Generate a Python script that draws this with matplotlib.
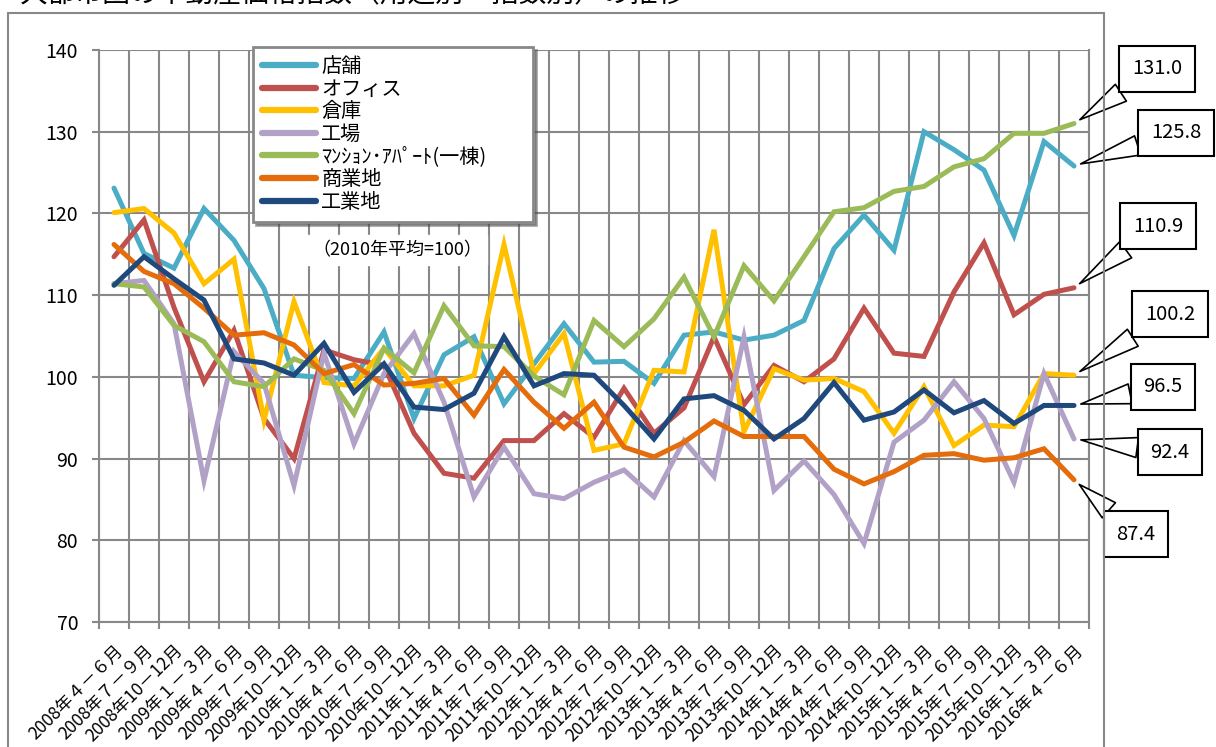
import numpy as np
import matplotlib
matplotlib.use("Agg")
import matplotlib.pyplot as plt
from matplotlib.patches import Rectangle

plt.rcParams['font.family'] = ['Noto Sans CJK JP', 'DejaVu Sans']

#
# Quarter labels, 2008 Q2 .. 2016 Q2
#
quarters = []
for year in range(2008, 2017):
    for q in ["１－３", "４－６", "７－９", "10－12"]:
        quarters.append(f"{year}年{q}月")
quarters = quarters[1:34]

# Index values (2010 average = 100)
shop = [123.1, 115.1, 113.3, 120.6, 116.7, 110.8, 100.2, 99.9, 99.8, 105.5, 94.9,
        102.7, 104.9, 96.7, 101.6, 106.5, 101.8, 101.9, 99.2, 105.1, 105.5, 104.5,
        105.1, 106.9, 115.7, 119.8, 115.5, 130.0, 127.8, 125.3, 117.3, 128.8, 125.8]
office = [114.7, 119.2, 108.5, 99.4, 105.7, 94.9, 90.0, 103.3, 102.1, 101.4, 93.1,
          88.2, 87.6, 92.2, 92.2, 95.5, 92.6, 98.6, 93.1, 96.2, 104.9, 96.6,
          101.4, 99.4, 102.2, 108.4, 102.9, 102.5, 110.4, 116.4, 107.6, 110.1, 110.9]
warehouse = [120.1, 120.6, 117.6, 111.4, 114.4, 94.7, 109.2, 99.3, 98.9, 103.5, 98.9,
             98.9, 100.2, 116.2, 100.4, 105.3, 91.0, 91.8, 100.8, 100.6, 118.0, 93.3,
             101.0, 99.6, 99.8, 98.2, 93.1, 98.8, 91.6, 94.1, 93.9, 100.4, 100.2]
factory = [111.4, 111.8, 106.5, 87.3, 103.1, 99.2, 86.7, 102.9, 91.8, 100.4, 105.3,
           96.9, 85.3, 91.4, 85.7, 85.1, 87.1, 88.6, 85.3, 92.2, 87.8, 104.9,
           86.1, 89.7, 85.6, 79.6, 92.0, 94.7, 99.4, 94.9, 87.1, 100.4, 92.4]
apartment = [111.4, 111.0, 106.3, 104.3, 99.4, 98.8, 102.2, 100.8, 95.5, 103.5, 100.5,
             108.7, 103.8, 103.7, 100.1, 97.8, 106.9, 103.7, 107.1, 112.2, 104.9, 113.6,
             109.3, 114.7, 120.2, 120.7, 122.7, 123.3, 125.7, 126.7, 129.8, 129.8, 131.0]
commercial = [116.2, 112.9, 111.4, 108.4, 105.1, 105.4, 103.9, 100.4, 101.5, 99.0, 99.2,
              99.8, 95.3, 100.9, 96.9, 93.7, 96.9, 91.4, 90.2, 92.0, 94.6, 92.7,
              92.7, 92.7, 88.7, 86.9, 88.4, 90.4, 90.6, 89.8, 90.1, 91.2, 87.4]
industrial = [111.2, 114.7, 112.0, 109.4, 102.2, 101.7, 100.2, 104.1, 98.1, 101.6, 96.3,
              96.0, 98.0, 104.9, 98.9, 100.4, 100.2, 96.5, 92.4, 97.3, 97.7, 95.9,
              92.4, 94.9, 99.3, 94.7, 95.7, 98.4, 95.6, 97.1, 94.3, 96.5, 96.5]

series_names = ["店舗", "オフィス", "倉庫", "工場", "ﾏﾝｼｮﾝ･ｱﾊﾟｰﾄ(一棟)", "商業地", "工業地"]
series_values = [shop, office, warehouse, factory, apartment, commercial, industrial]
series_colors = ["#4BACC6", "#C0504D", "#FFC000", "#B2A1C7", "#9BBB59", "#E46C0A", "#1F497D"]

# callout text positions (figure pixels from top-left) for each series
callout_pos = {"ﾏﾝｼｮﾝ･ｱﾊﾟｰﾄ(一棟)": (1157, 69), "店舗": (1176, 133), "オフィス": (1158, 226),
               "倉庫": (1170, 314), "工業地": (1163, 387), "工場": (1170, 452),
               "商業地": (1136, 534)}

W, H = 1216, 747
fig = plt.figure(figsize=(W / 100, H / 100), dpi=100)
ax = fig.add_axes([99 / W, 125 / H, 990 / W, 572 / H])

x = np.arange(len(quarters))
for name, vals, col in zip(series_names, series_values, series_colors):
    ax.plot(x, vals, color=col, lw=3.6, label=name, solid_capstyle='round',
            solid_joinstyle='miter')

ax.set_xlim(-0.5, len(quarters) - 0.5)
ax.set_ylim(70, 140)
ax.set_yticks(np.arange(70, 141, 10))
ax.set_xticks(x)
ax.set_xticklabels(quarters, rotation=45, ha='right', va='top',
                   rotation_mode='anchor', fontsize=12.5)
ax.set_xticks(np.arange(-0.5, len(quarters), 1), minor=True)
ax.tick_params(axis='x', which='major', length=0, pad=14)
ax.tick_params(axis='x', which='minor', length=5, width=1.5, color='#888888')
ax.tick_params(axis='y', length=5, width=1.5, color='#888888', labelsize=14, pad=10)
ax.grid(True, axis='y', color='#888888', lw=1.5)
ax.grid(True, axis='x', which='minor', color='#888888', lw=1.5)
ax.set_axisbelow(True)
for s in ax.spines.values():
    s.set_color('#888888')
    s.set_linewidth(1.5)
ax.spines['top'].set_visible(False)

# legend box stretched to the width of the original
leg = ax.legend(loc='upper left', bbox_to_anchor=(253 / W, 1 - 223 / H, 280 / W, 176 / H),
                bbox_transform=fig.transFigure, borderaxespad=0, mode='expand',
                fontsize=14.5, handlelength=2.7, handletextpad=0.25,
                labelspacing=0.08, borderpad=0.45, fancybox=False, shadow=True,
                framealpha=1)
leg.get_frame().set_edgecolor('#888888')
leg.get_frame().set_linewidth(2)
for line in leg.get_lines():
    line.set_linewidth(4.5)

ax.text(312, H - 250, "（2010年平均=100）", transform=None, fontsize=13,
        va='center', ha='left', backgroundcolor='white')

# callouts with the last value of each series
for name, vals in zip(series_names, series_values):
    tx, ty = callout_pos[name]
    ax.annotate(f"{vals[-1]:.1f}", xy=(len(vals) - 1, vals[-1]), xycoords='data',
                xytext=(tx, H - ty), textcoords='figure pixels',
                fontsize=14.5, ha='center', va='center', annotation_clip=False,
                bbox=dict(boxstyle='square,pad=0.62', fc='white', ec='black', lw=1.5),
                arrowprops=dict(arrowstyle='wedge,tail_width=1.0', fc='white',
                                ec='black', lw=1.2, shrinkA=0, shrinkB=5))

# outer chart frame and the cut-off title
fig.patches.append(Rectangle((8 / W, -0.1), 1096 / W, (H - 13) / H + 0.1,
                             transform=fig.transFigure, fill=False,
                             ec='#888888', lw=1.5))
fig.text(20 / W, (H + 6) / H, "大都市圏の不動産価格指数（用途別・指数別）の推移",
         fontsize=20, va='center', ha='left')

fig.savefig("out.png", dpi=100)
